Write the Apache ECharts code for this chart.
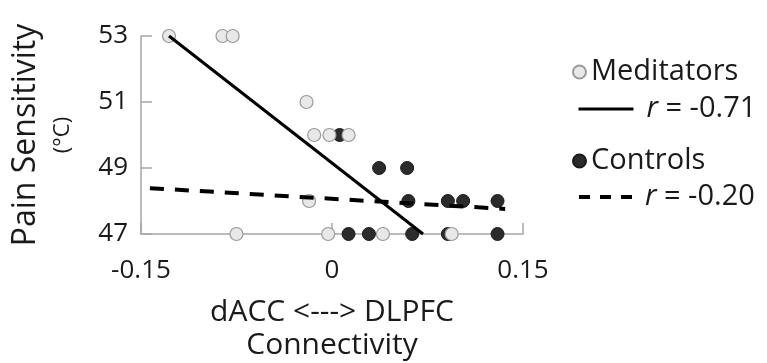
<!DOCTYPE html>
<html>
<head>
<meta charset="utf-8">
<script src="https://cdn.jsdelivr.net/npm/echarts@6/dist/echarts.min.js"></script>
<style>
html,body{margin:0;padding:0;background:#fff;}
#chart{width:767px;height:363px;}
</style>
</head>
<body>
<div id="chart"></div>
<script>
// ---- data ----
var medX = [-0.128, -0.086, -0.078, -0.020, -0.014, -0.002, 0.013, -0.018, -0.075, -0.003, 0.040, 0.094];
var medY = [53, 53, 53, 51, 50, 50, 50, 48, 47, 47, 47, 47];
var ctlX = [0.006, 0.037, 0.059, 0.060, 0.091, 0.103, 0.130, 0.013, 0.029, 0.063, 0.091, 0.130];
var ctlY = [50, 49, 49, 48, 48, 48, 48, 47, 47, 47, 47, 47];
var medFitX = [-0.128, 0.0715];
var medFitY = [53, 47];
var ctlFitX = [-0.143, 0.136];
var ctlFitY = [48.39, 47.76];
var xTicks = [-0.15, 0, 0.15];
var yTicks = [47, 49, 51, 53];
var seriesNames = ['Meditators', 'r = -0.71', 'Controls', 'r = -0.20'];

function pairs(xs, ys){ return xs.map(function(x,i){ return [x, ys[i]]; }); }

var FONT = '"Open Sans", sans-serif';
var TXT = '#1a1a1a';
var AX = '#a6a6a6';
var LFS = 29;

var legendRich = {
  i: {fontStyle:'italic', fontSize:LFS, fontFamily:FONT, color:TXT, padding:[0,0,0,8]},
  n: {fontSize:LFS, fontFamily:FONT, color:TXT}
};
function legendFmt(name){
  if (name.charAt(0) === 'r') return '{i|r}{n|' + name.slice(1) + '}';
  return name;
}
function mkLegend(name, left, centerY, w, h, extra){
  var lh = 36;
  var o = {
    data:[name], left:left, top:centerY - lh/2, orient:'vertical',
    itemWidth:w, itemHeight:h, padding:0, selectedMode:false,
    formatter: legendFmt,
    textStyle:{fontSize:LFS, fontFamily:FONT, color:TXT, lineHeight:lh, rich:legendRich}
  };
  for (var k in extra) o[k] = extra[k];
  return o;
}
var noSym = {color:'rgba(0,0,0,0)', borderColor:'rgba(0,0,0,0)', borderWidth:0, opacity:0};

var chart = echarts.init(document.getElementById('chart'), null, {renderer:'canvas'});
chart.setOption({
  animation:false,
  backgroundColor:'#fff',
  grid:{left:141, right:244, top:36, bottom:129, containLabel:false, outerBoundsMode:'none'},
  legend:[
    mkLegend(seriesNames[0], 572, 72, 13, 13, {icon:'circle'}),
    mkLegend(seriesNames[1], 577, 109, 55, 14, {lineStyle:{width:3}, itemStyle:noSym}),
    mkLegend(seriesNames[2], 572, 161, 13, 13, {icon:'circle'}),
    mkLegend(seriesNames[3], 577, 197, 53, 14, {lineStyle:{width:4, type:[11,10]}, itemStyle:noSym})
  ],
  xAxis:{
    type:'value', min:xTicks[0], max:xTicks[2], interval:0.15,
    splitLine:{show:false},
    axisLine:{onZero:false, lineStyle:{color:AX, width:1.5}},
    axisTick:{show:true, inside:true, length:11, lineStyle:{color:AX, width:1.5}},
    axisLabel:{fontSize:26, fontFamily:FONT, color:TXT, margin:24,
      formatter:function(v){ return String(Math.round(v*100)/100); }},
    name:'dACC <---> DLPFC\nConnectivity',
    nameLocation:'middle', nameGap:62,
    nameTextStyle:{fontSize:30, fontFamily:FONT, color:TXT, lineHeight:33}
  },
  yAxis:{
    type:'value', min:yTicks[0], max:yTicks[3], interval:2,
    splitLine:{show:false},
    axisLine:{show:true, onZero:false, lineStyle:{color:AX, width:1.5}},
    axisTick:{show:true, inside:true, length:11, lineStyle:{color:AX, width:1.5}},
    axisLabel:{fontSize:26, fontFamily:FONT, color:TXT, margin:13},
    name:'{a|Pain Sensitivity}\n{b|(°C)}',
    nameLocation:'middle', nameRotate:90, nameGap:64,
    nameTextStyle:{
      rich:{
        a:{fontSize:32, fontFamily:FONT, color:TXT, lineHeight:46},
        b:{fontSize:22, fontFamily:FONT, color:TXT, lineHeight:28}
      }
    }
  },
  series:[
    {
      name:seriesNames[2], type:'scatter', z:2, symbol:'circle', symbolSize:13,
      itemStyle:{color:'#2b2b2b', borderColor:'#1a1a1a', borderWidth:1, opacity:1},
      data:pairs(ctlX, ctlY), silent:true
    },
    {
      name:seriesNames[0], type:'scatter', z:3, symbol:'circle', symbolSize:13,
      itemStyle:{color:'#e8e8e8', borderColor:'#9a9a9a', borderWidth:1.2, opacity:1},
      data:pairs(medX, medY), silent:true
    },
    {
      name:seriesNames[1], type:'line', z:4, symbol:'none',
      lineStyle:{color:'#000', width:3},
      itemStyle:{color:'#000'},
      data:pairs(medFitX, medFitY), silent:true
    },
    {
      name:seriesNames[3], type:'line', z:4, symbol:'none',
      lineStyle:{color:'#000', width:4, type:[14,11]},
      itemStyle:{color:'#000'},
      data:pairs(ctlFitX, ctlFitY), silent:true
    }
  ]
});
</script>
</body>
</html>
